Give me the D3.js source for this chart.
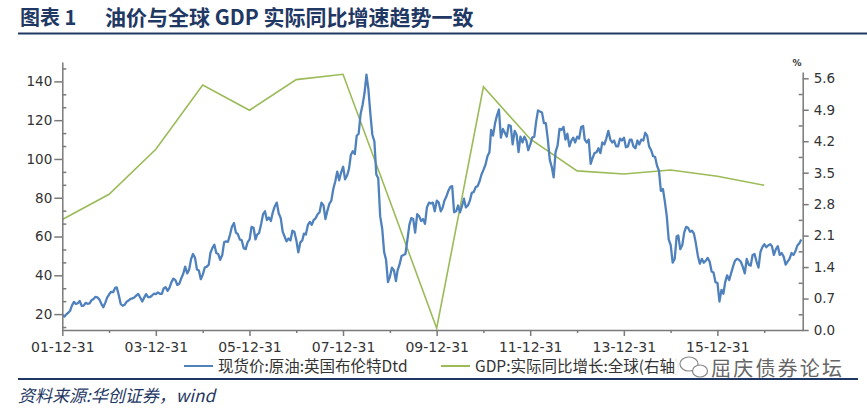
<!DOCTYPE html>
<html>
<head>
<meta charset="utf-8">
<script src="https://cdn.jsdelivr.net/npm/d3@7/dist/d3.min.js"></script>
<style>
  body { margin: 0; background: #fff; }
  .ax text { font-family: "DejaVu Sans", sans-serif; fill: #333; }
  .ax path, .ax line { stroke: #7a7a7a; stroke-width: 1.5; }
</style>
</head>
<body>
<svg id="chart" width="867" height="408"></svg>
<script>
const oilStartDate = "2001-12-31";
const oilStartValue = 19.5;
const oil2002 = [19.6, 18.7, 19.9, 20.8, 21.6, 24.4, 26.3, 25.2, 25.6, 26.8, 24.2, 24.4, 25.8, 25.3, 25.5, 27.2, 27.8, 28.9, 28.6, 27.6, 25.3, 23.5, 25.8, 28.5];
const oil2003 = [30.2, 31.5, 31.3, 33.5, 33.8, 30.0, 25.2, 24.3, 24.8, 26.3, 27.0, 27.8, 28.1, 28.6, 29.6, 30.4, 28.4, 26.5, 28.5, 30.3, 28.7, 28.8, 29.6, 30.5];
const oil2004 = [30.3, 31.2, 30.5, 30.4, 33.2, 33.9, 32.0, 33.6, 36.5, 38.3, 37.5, 35.0, 35.6, 38.4, 40.8, 44.5, 41.0, 43.0, 48.3, 51.0, 49.0, 43.0, 42.5, 38.0];
const oil2005 = [40.5, 44.0, 44.5, 45.5, 51.5, 54.0, 55.8, 51.5, 51.0, 48.0, 50.3, 57.0, 57.5, 57.3, 61.0, 65.0, 67.0, 62.0, 61.3, 58.5, 58.0, 54.0, 53.5, 57.0];
const oil2006 = [58.5, 65.0, 64.5, 58.5, 61.0, 61.8, 66.5, 71.5, 73.0, 68.5, 69.8, 68.0, 72.5, 75.5, 77.5, 72.0, 69.5, 62.5, 60.0, 57.5, 59.0, 58.0, 63.0, 62.5];
const oil2007 = [58.0, 51.8, 57.0, 58.0, 61.5, 61.0, 66.0, 67.5, 66.0, 68.5, 69.5, 71.5, 72.5, 77.5, 76.0, 69.0, 73.5, 77.0, 78.5, 84.5, 88.5, 93.5, 89.0, 93.0];
const oil2008 = [96.0, 89.5, 91.5, 95.0, 102.0, 104.0, 102.5, 112.0, 113.0, 123.0, 128.0, 134.0, 143.5, 136.0, 123.0, 112.5, 109.0, 92.0, 90.0, 70.5, 64.0, 52.0, 48.0, 36.5];
const oil2009 = [39.5, 44.0, 42.5, 37.0, 42.5, 45.5, 50.0, 50.5, 51.0, 58.0, 66.0, 69.5, 69.0, 62.0, 71.5, 70.5, 68.0, 69.0, 66.5, 75.0, 77.5, 77.0, 77.5, 73.0];
const oil2010 = [78.5, 77.5, 73.0, 75.0, 78.5, 80.5, 83.5, 85.5, 86.0, 72.5, 73.0, 76.0, 72.5, 75.5, 79.5, 75.0, 76.0, 78.5, 82.5, 83.0, 85.5, 86.0, 88.5, 92.0];
const oil2011 = [94.5, 97.0, 101.5, 103.5, 115.0, 112.0, 118.5, 122.5, 125.5, 111.0, 115.5, 113.5, 111.5, 117.5, 117.0, 107.5, 114.5, 112.5, 103.5, 111.5, 108.5, 111.5, 109.5, 104.5];
const oil2012 = [107.5, 111.0, 111.5, 119.5, 125.0, 124.5, 124.0, 118.5, 118.5, 110.5, 99.5, 96.0, 90.5, 103.5, 107.0, 115.5, 115.0, 116.5, 110.0, 113.0, 106.5, 109.5, 111.0, 108.5];
const oil2013 = [111.5, 110.5, 116.5, 117.0, 110.0, 108.5, 110.0, 97.5, 100.5, 103.0, 103.5, 105.5, 103.0, 108.5, 107.5, 110.5, 114.5, 110.0, 108.5, 109.5, 106.5, 106.5, 110.5, 109.5];
const oil2014 = [111.0, 106.0, 106.5, 110.0, 110.0, 106.5, 105.5, 109.5, 107.5, 110.0, 109.5, 113.5, 112.0, 106.5, 104.5, 101.5, 101.0, 96.5, 94.0, 83.5, 84.5, 78.0, 70.5, 58.5];
const oil2015 = [55.5, 46.5, 48.5, 60.0, 60.5, 53.5, 55.5, 62.0, 65.0, 64.5, 62.5, 63.0, 61.5, 56.5, 50.0, 46.0, 48.5, 46.5, 47.5, 49.0, 47.0, 42.0, 41.5, 36.5];
const oil2016 = [36.0, 26.5, 32.5, 30.5, 36.5, 40.0, 37.5, 41.0, 44.5, 47.5, 48.5, 48.0, 47.0, 44.5, 41.0, 48.5, 45.5, 45.0, 50.5, 51.0, 47.0, 44.0, 52.0, 54.5];
const oil2017 = [56.0, 54.5, 55.5, 56.0, 55.0, 50.5, 53.5, 55.0, 50.5, 51.5, 49.5, 45.5, 47.0, 48.5, 51.5, 50.5, 52.5, 55.5, 56.5, 58.5];

// World real GDP growth, % (right axis)
const gdpDates = ["2001-12-31", "2002-12-31", "2003-12-31", "2004-12-31", "2005-12-31", "2006-12-31", "2007-12-31", "2008-12-31",
                  "2009-12-31", "2010-12-31", "2011-12-31", "2012-12-31", "2013-12-31", "2014-12-31", "2015-12-31", "2016-12-31"];
const gdpValues = [2.46, 3.02, 4.02, 5.45, 4.89, 5.57, 5.69, 2.87, 0.04, 5.41, 4.25, 3.54, 3.47, 3.56, 3.42, 3.22];

const leftTicks = [20, 40, 60, 80, 100, 120, 140];
const rightTicks = [0.0, 0.7, 1.4, 2.1, 2.8, 3.5, 4.2, 4.9, 5.6];
const xTickDates = ["2001-12-31", "2002-12-31", "2003-12-31", "2004-12-31", "2005-12-31", "2006-12-31", "2007-12-31", "2008-12-31",
                    "2009-12-31", "2010-12-31", "2011-12-31", "2012-12-31", "2013-12-31", "2014-12-31", "2015-12-31", "2016-12-31"];
const xLabelDates = ["2001-12-31", "2003-12-31", "2005-12-31", "2007-12-31", "2009-12-31", "2011-12-31", "2013-12-31", "2015-12-31"];

const legendNames = ["现货价:原油:英国布伦特Dtd", "GDP:实际同比增长:全球(右轴)"];
const colors = ["#4f81bd", "#9bbb59"];

const parse = d3.timeParse("%Y-%m-%d");
const fmt = d3.timeFormat("%y-%m-%d");
const iso = d3.timeFormat("%Y-%m-%d");

// build the oil series (dates on the 1st and 16th)
const oilYears = [oil2002, oil2003, oil2004, oil2005, oil2006, oil2007, oil2008, oil2009,
                  oil2010, oil2011, oil2012, oil2013, oil2014, oil2015, oil2016, oil2017];
let oil = [{ date: parse(oilStartDate), value: oilStartValue }];
oilYears.forEach((vals, yi) => {
    vals.forEach((v, i) => {
        let month = Math.floor(i / 2);
        let day = i % 2 === 0 ? 1 : 16;
        oil.push({ date: new Date(2002 + yi, month, day), value: v });
    });
});
let gdp = gdpDates.map((d, i) => ({ date: parse(d), value: gdpValues[i] }));

const svg = d3.select("#chart");
const plotLeft = 62.3, plotRight = 802.7, plotTop = 62, plotBottom = 330;

let x = d3.scaleTime()
    .domain([parse("2001-12-31"), parse("2017-10-27")])
    .range([plotLeft, plotRight]);
let yL = d3.scaleLinear().domain([11.8, 150]).range([plotBottom, plotTop]);
let yR = d3.scaleLinear().domain([0, 5.74]).range([plotBottom, 72]);

// title
svg.append("text").attr("x", 20).attr("y", 25)
    .attr("font-family", "Noto Sans CJK SC").attr("font-weight", "bold")
    .attr("font-size", 20).attr("fill", "#1f3864")
    .text("图表 1");
svg.append("text").attr("x", 105).attr("y", 25)
    .attr("font-family", "Noto Sans CJK SC").attr("font-weight", "bold")
    .attr("font-size", 21).attr("fill", "#1f3864")
    .text("油价与全球 GDP 实际同比增速趋势一致");
svg.append("line").attr("x1", 18).attr("x2", 867).attr("y1", 33.5).attr("y2", 33.5)
    .attr("stroke", "#1f3864").attr("stroke-width", 2.2);

// lines
svg.append("defs").append("clipPath").attr("id", "plot")
    .append("rect").attr("x", plotLeft).attr("y", plotTop - 5)
    .attr("width", plotRight - plotLeft).attr("height", plotBottom - plotTop + 5);

let oilLine = d3.line().x(d => x(d.date)).y(d => yL(d.value));
let gdpLine = d3.line().x(d => x(d.date)).y(d => yR(d.value));

svg.append("path").datum(gdp)
    .attr("d", gdpLine).attr("fill", "none")
    .attr("stroke", colors[1]).attr("stroke-width", 1.6)
    .attr("clip-path", "url(#plot)");
svg.append("path").datum(oil)
    .attr("d", oilLine).attr("fill", "none")
    .attr("stroke", colors[0]).attr("stroke-width", 2.3)
    .attr("stroke-linejoin", "round")
    .attr("clip-path", "url(#plot)");

// left axis: major ticks outward, minor ticks inward
function offMajor(v) { return Math.abs(v / 20 - Math.round(v / 20)) > 0.01; }
let leftMinor = d3.range(2, 23).map(i => 20 / 3 * i).filter(v => v < 150 && v > 11.8 && offMajor(v));
let gl = svg.append("g").attr("class", "ax").attr("transform", `translate(${plotLeft},0)`)
    .call(d3.axisLeft(yL).tickValues(leftTicks).tickSize(8).tickPadding(2).tickSizeOuter(0));
gl.selectAll("text").attr("font-size", 13.5);
svg.append("g").attr("class", "ax").attr("transform", `translate(${plotLeft},0)`)
    .call(d3.axisRight(yL).tickValues(leftMinor).tickSize(4).tickFormat("").tickSizeOuter(0))
    .select(".domain").remove();

// right axis
let rightMinor = rightTicks.slice(0, -1).map(v => v + 0.35);
let gr = svg.append("g").attr("class", "ax").attr("transform", `translate(${plotRight},0)`)
    .call(d3.axisRight(yR).tickValues(rightTicks).tickSize(6).tickPadding(5).tickSizeOuter(0)
        .tickFormat(d3.format(".1f")));
gr.selectAll("text").attr("font-size", 13.5);
svg.append("g").attr("class", "ax").attr("transform", `translate(${plotRight},0)`)
    .call(d3.axisLeft(yR).tickValues(rightMinor).tickSize(4).tickFormat("").tickSizeOuter(0))
    .select(".domain").remove();
svg.append("text").attr("x", 797).attr("y", 66).attr("text-anchor", "middle")
    .attr("font-family", "DejaVu Sans").attr("font-size", 9).attr("font-weight", "bold")
    .attr("fill", "#333").text("%");

// x axis
let labelSet = new Set(xLabelDates);
let gx = svg.append("g").attr("class", "ax").attr("transform", `translate(0,${plotBottom})`)
    .call(d3.axisBottom(x).tickValues(xTickDates.map(parse)).tickSizeOuter(0)
        .tickFormat(d => labelSet.has(iso(d)) ? fmt(d) : ""));
gx.selectAll(".tick line").attr("y2", d => labelSet.has(iso(d)) ? 6 : 3);
gx.selectAll("text").attr("font-size", 14).attr("fill", "#222").attr("dy", "0.9em");

// legend
let lg = svg.append("g").attr("font-family", "Noto Sans CJK SC").attr("font-size", 15.5).attr("fill", "#333");
let legendX = [184, 441];
legendNames.forEach((name, i) => {
    lg.append("line").attr("x1", legendX[i]).attr("x2", legendX[i] + 29)
        .attr("y1", 366).attr("y2", 366)
        .attr("stroke", colors[i]).attr("stroke-width", 2);
    lg.append("text").attr("x", legendX[i] + 34).attr("y", 371.5).text(name);
});

// footer rule and source
svg.append("line").attr("x1", 18).attr("x2", 858).attr("y1", 379).attr("y2", 379)
    .attr("stroke", "#1f3864").attr("stroke-width", 2.2);
svg.append("text").attr("x", 18).attr("y", 402)
    .attr("font-family", "Noto Sans CJK SC").attr("font-style", "italic")
    .attr("font-size", 17).attr("fill", "#1f3864")
    .text("资料来源:华创证券，wind");

// watermark over the end of the second legend entry
let wm = svg.append("g");
wm.append("rect").attr("x", 676).attr("y", 355).attr("width", 174).attr("height", 22).attr("fill", "#fff").attr("opacity", 0.92);
wm.append("ellipse").attr("cx", 689).attr("cy", 364).attr("rx", 9).attr("ry", 7)
    .attr("fill", "none").attr("stroke", "#888").attr("stroke-width", 1.2);
wm.append("ellipse").attr("cx", 700).attr("cy", 371).attr("rx", 7.5).attr("ry", 6)
    .attr("fill", "#fff").attr("stroke", "#888").attr("stroke-width", 1.2);
wm.append("text").attr("x", 711).attr("y", 376)
    .attr("font-family", "Noto Sans CJK SC").attr("font-size", 20).attr("fill", "#666")
    .attr("textLength", 131).text("屈庆债券论坛");
</script>
</body>
</html>
